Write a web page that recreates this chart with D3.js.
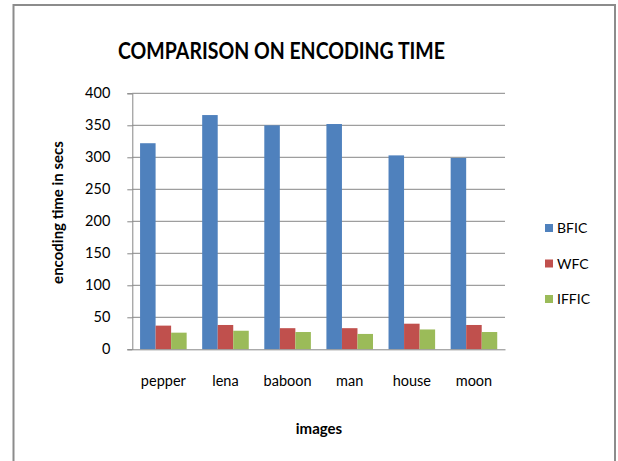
<!DOCTYPE html>
<html><head><meta charset="utf-8">
<script src="https://cdn.jsdelivr.net/npm/d3@7"></script>
<style>body{margin:0;background:#fff}svg{display:block}text{font-family:Lato,"Open Sans",sans-serif;fill:#000}</style>
</head><body><svg id="c" width="618" height="461"></svg>
<script>
const categories = ["pepper","lena","baboon","man","house","moon"];
const seriesNames = ["BFIC","WFC","IFFIC"];
const BFIC = [322, 366, 350, 352, 303, 299];
const WFC = [37, 38, 33, 33, 40, 38];
const IFFIC = [26, 29, 27, 24, 31, 27];
const yTicks = [0,50,100,150,200,250,300,350,400];
const colors = ["#4f81bd","#c0504d","#9bbb59"];
const seriesValues = [BFIC, WFC, IFFIC];

const svg = d3.select("#c");
svg.append("rect").attr("x",13.5).attr("y",5).attr("width",601.5).attr("height",470)
  .attr("fill","#fff").attr("stroke","#8c8c8c").attr("stroke-width",2);

const L=132.3, R=505, T=93.3, B=349.3;
const x0 = d3.scaleBand().domain(categories).range([L,R]).padding(0);
const x1 = d3.scaleBand().domain(seriesNames).range([0,x0.bandwidth()]).paddingInner(0).paddingOuter(0.5);
const y = d3.scaleLinear().domain([0,400]).range([B,T]);

// gridlines
svg.append("g").selectAll("line").data(yTicks.filter(d=>d>0)).join("line")
  .attr("x1",L).attr("x2",R).attr("y1",d=>y(d)).attr("y2",d=>y(d))
  .attr("stroke","#868686").attr("stroke-width",1);

// y axis
const ya = svg.append("g").attr("transform",`translate(${L},0)`)
  .call(d3.axisLeft(y).tickValues(yTicks).tickSize(5).tickPadding(17));
ya.select(".domain").attr("stroke","#868686");
ya.selectAll(".tick line").attr("stroke","#868686");
ya.selectAll("text").attr("font-size",14.5).attr("font-family","Lato").attr("fill","#000");

// bars
const g = svg.append("g");
categories.forEach((c,i)=>{
  seriesNames.forEach((s,j)=>{
    const v = seriesValues[j][i];
    g.append("rect").attr("x",x0(c)+x1(s)).attr("width",x1.bandwidth())
      .attr("y",y(v)).attr("height",y(0)-y(v)).attr("fill",colors[j]);
  });
});

// x axis
const xa = svg.append("g").attr("transform",`translate(0,${B})`)
  .call(d3.axisBottom(x0).tickSize(0).tickPadding(26));
xa.select(".domain").attr("stroke","#868686");
xa.selectAll("text").attr("font-size",14.5).attr("font-family","Lato").attr("fill","#000");

// title
svg.append("text").attr("x",281.5).attr("y",59).attr("text-anchor","middle")
  .attr("font-size",23).attr("font-weight","bold")
  .attr("textLength",327).attr("lengthAdjust","spacingAndGlyphs")
  .text("COMPARISON ON ENCODING TIME");
svg.append("text").attr("x",319).attr("y",434).attr("text-anchor","middle")
  .attr("font-size",15).attr("font-weight","bold").text("images");
svg.append("text").attr("transform","translate(63,212.5) rotate(-90)").attr("text-anchor","middle")
  .attr("font-size",15).attr("font-weight","bold").text("encoding time in secs");

// legend
const lg = svg.append("g");
seriesNames.forEach((s,j)=>{
  const ly = 228 + j*35.5;
  lg.append("rect").attr("x",545).attr("y",ly-4).attr("width",8).attr("height",8).attr("fill",colors[j]);
  lg.append("text").attr("x",557).attr("y",ly+5).attr("font-size",14).text(s);
});
</script></body></html>
